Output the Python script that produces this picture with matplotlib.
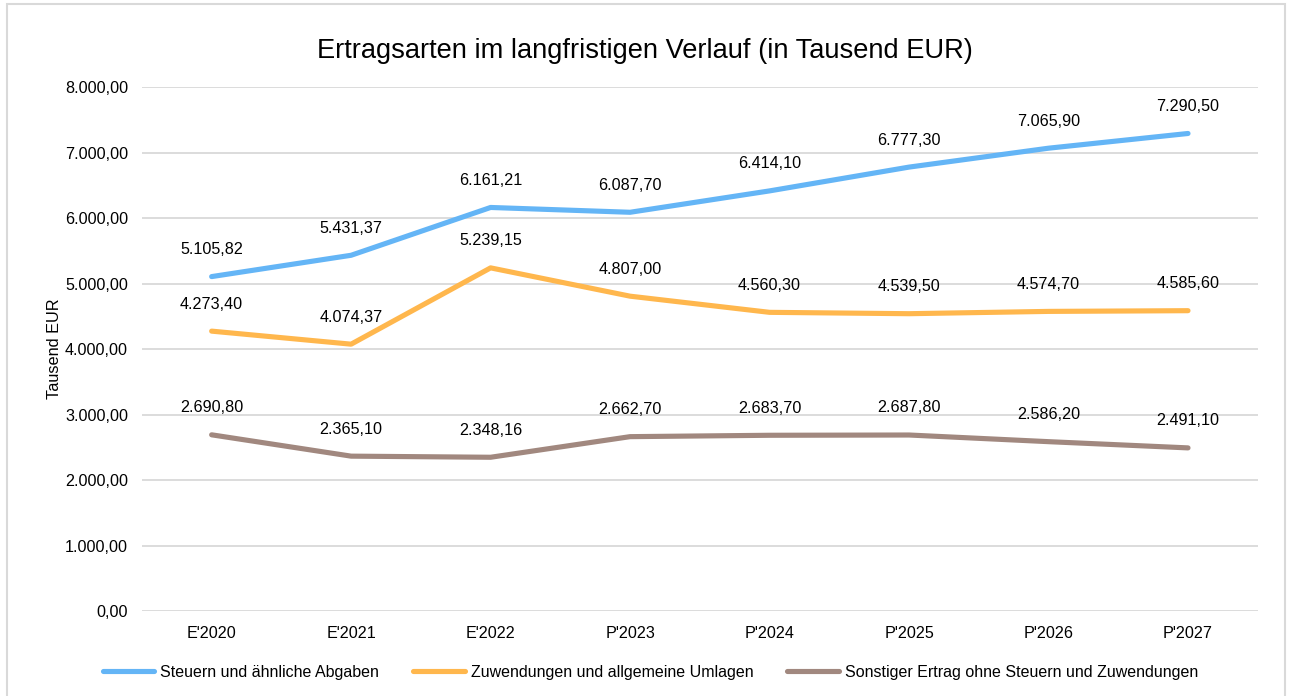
import matplotlib
matplotlib.use("Agg")
import matplotlib.pyplot as plt
from matplotlib.patches import Rectangle
from matplotlib.ticker import FuncFormatter

plt.rcParams['font.family'] = ['Liberation Sans', 'DejaVu Sans']

categories = ["E'2020", "E'2021", "E'2022", "P'2023", "P'2024", "P'2025", "P'2026", "P'2027"]
steuern = [5105.82, 5431.37, 6161.21, 6087.70, 6414.10, 6777.30, 7065.90, 7290.50]
zuwendungen = [4273.40, 4074.37, 5239.15, 4807.00, 4560.30, 4539.50, 4574.70, 4585.60]
sonstige = [2690.80, 2365.10, 2348.16, 2662.70, 2683.70, 2687.80, 2586.20, 2491.10]

series_names = ["Steuern und ähnliche Abgaben",
                "Zuwendungen und allgemeine Umlagen",
                "Sonstiger Ertrag ohne Steuern und Zuwendungen"]
colors = ["#64B5F6", "#FFB74D", "#A1887F"]


def de_fmt(v, decimals=2):
    # German number format: 1.234,56
    s = f"{v:,.{decimals}f}"
    return s.replace(",", "X").replace(".", ",").replace("X", ".")


fig = plt.figure(figsize=(12.9, 6.96), dpi=100)
ax = fig.add_axes([0.110, 0.122, 0.865, 0.753])

x = list(range(len(categories)))
for vals, name, col in zip([steuern, zuwendungen, sonstige], series_names, colors):
    ax.plot(x, vals, color=col, lw=3.7, solid_capstyle='round', solid_joinstyle='round',
            label=name, zorder=3)
    for xi, v in zip(x, vals):
        ax.annotate(de_fmt(v), (xi, v), xytext=(0, 19.5), textcoords='offset points',
                    ha='center', va='center', fontsize=11.6, color='black')

ax.set_xlim(-0.5, len(categories) - 0.5)
ax.set_ylim(0, 8000)
ax.set_yticks(range(0, 8001, 1000))
ax.yaxis.set_major_formatter(FuncFormatter(lambda v, p: de_fmt(v)))
ax.set_xticks(x)
ax.set_xticklabels(categories)
ax.tick_params(axis='both', length=0, labelsize=11.6, colors='black')
ax.tick_params(axis='y', pad=10)
ax.tick_params(axis='x', pad=11)
ax.grid(axis='y', color='#d9d9d9', lw=1.3, zorder=0)
for s in ax.spines.values():
    s.set_visible(False)

ax.set_ylabel("Tausend EUR", fontsize=11.7)
ax.yaxis.set_label_coords(-0.072, 0.5)

fig.text(0.5, 0.927, "Ertragsarten im langfristigen Verlauf (in Tausend EUR)",
         ha='center', va='center', fontsize=19.6)

fig.legend(loc='center', bbox_to_anchor=(0.504, 0.034), ncol=3, frameon=False,
           fontsize=11.5, handlelength=3.25, handletextpad=0.37, columnspacing=2.1)

fig.patches.append(Rectangle((6.5 / 1290, -0.02), 1278 / 1290, 1.02 - 4 / 696,
                             transform=fig.transFigure, fill=False,
                             edgecolor='#d9d9d9', lw=1.5))

fig.savefig("out.png", dpi=100)
